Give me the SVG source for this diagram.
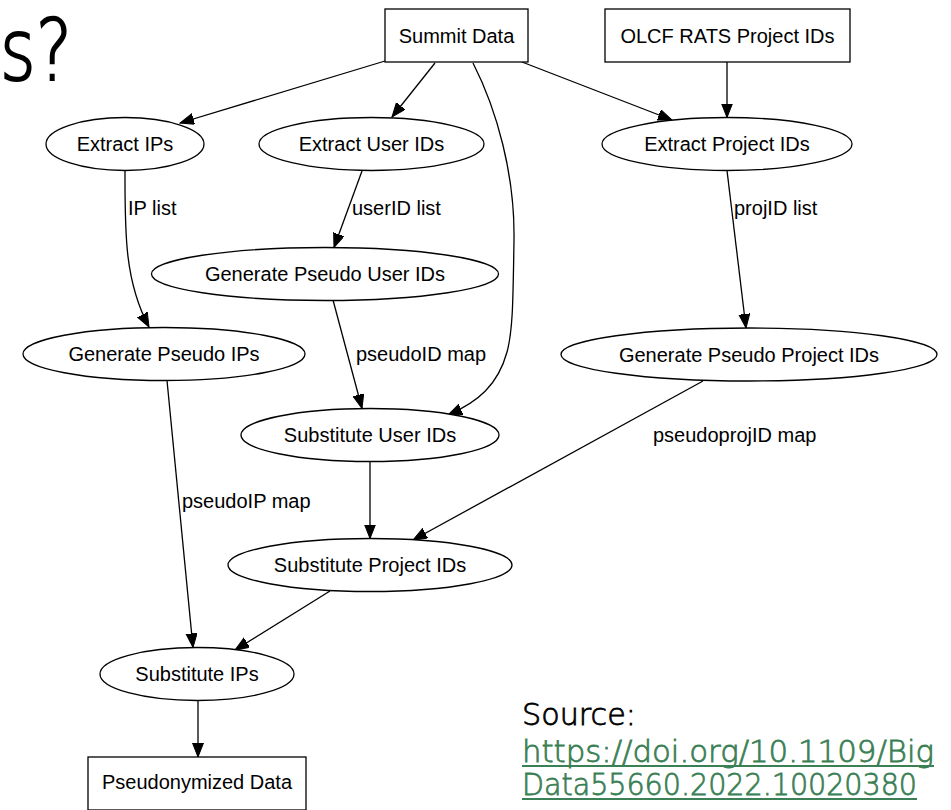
<svg xmlns="http://www.w3.org/2000/svg" width="951" height="810" viewBox="0 0 951 810">
<style>
.n{fill:#fff;stroke:#000;stroke-width:1.3}
.t{font-family:"Liberation Sans",Arial,sans-serif;font-size:20px;fill:#000;text-anchor:middle}
.l{font-family:"Liberation Sans",Arial,sans-serif;font-size:20px;fill:#000}
.e{fill:none;stroke:#000;stroke-width:1.3;marker-end:url(#ah)}
.g{font-family:"DejaVu Sans",sans-serif;font-weight:200}
</style>
<defs>
<marker id="ah" markerUnits="userSpaceOnUse" markerWidth="15" markerHeight="12" refX="14" refY="5.5" orient="auto">
<path d="M0,0 L14,5.5 L0,11 z" fill="#000" stroke="#000" stroke-width="1"/>
</marker>
</defs>
<rect width="951" height="810" fill="#fff"/>
<text x="0" y="80" class="g" font-size="86" textLength="72" lengthAdjust="spacingAndGlyphs" fill="#000" stroke="#000" stroke-width="2">s?</text>
<g id="edges">
<path class="e" d="M385,61 L180,123"/>
<path class="e" d="M435,63 L392,117"/>
<path class="e" d="M473,63 C497,110 515,175 514,240 C513,300 513,330 507,352 C498,385 478,402 448,415"/>
<path class="e" d="M727,62 L727,117.5"/>
<path class="e" d="M522,62 L672,120"/>
<path class="e" d="M125,170.5 C125,230 124,280 149,327"/>
<path class="e" d="M362,171 L334,247.5"/>
<path class="e" d="M333,300 L362,408.5"/>
<path class="e" d="M727,170.5 L746,328"/>
<path class="e" d="M703,381 L413,540"/>
<path class="e" d="M370,461.5 L370,538.5"/>
<path class="e" d="M167,380.5 L193,647.5"/>
<path class="e" d="M330,591 L235,650"/>
<path class="e" d="M198,700.5 L198,757"/>
<text class="l" x="128" y="215">IP list</text>
<text class="l" x="352" y="215">userID list</text>
<text class="l" x="356" y="361">pseudoID map</text>
<text class="l" x="734" y="215">projID list</text>
<text class="l" x="653" y="442">pseudoprojID map</text>
<text class="l" x="182" y="508">pseudoIP map</text>
</g>
<g id="summit"><rect class="n" x="385" y="9" width="143" height="53"/><text class="t" x="456.5" y="43">Summit Data</text></g>
<g id="olcf"><rect class="n" x="605" y="9" width="245" height="53"/><text class="t" x="727.5" y="43">OLCF RATS Project IDs</text></g>
<g id="extractIPs"><ellipse class="n" cx="125" cy="144" rx="79" ry="26.5"/><text class="t" x="125" y="151">Extract IPs</text></g>
<g id="extractUser"><ellipse class="n" cx="371.5" cy="144" rx="112.5" ry="26.5"/><text class="t" x="371.5" y="151">Extract User IDs</text></g>
<g id="extractProj"><ellipse class="n" cx="727" cy="144" rx="125" ry="26.5"/><text class="t" x="727" y="151">Extract Project IDs</text></g>
<g id="genUser"><ellipse class="n" cx="325" cy="274" rx="173.5" ry="26.5"/><text class="t" x="325" y="281">Generate Pseudo User IDs</text></g>
<g id="genIPs"><ellipse class="n" cx="164" cy="354" rx="141" ry="26.5"/><text class="t" x="164" y="361">Generate Pseudo IPs</text></g>
<g id="genProj"><ellipse class="n" cx="749" cy="354.5" rx="188" ry="26.5"/><text class="t" x="749" y="361.5">Generate Pseudo Project IDs</text></g>
<g id="subUser"><ellipse class="n" cx="370" cy="435" rx="129" ry="26.5"/><text class="t" x="370" y="442">Substitute User IDs</text></g>
<g id="subProj"><ellipse class="n" cx="370" cy="565" rx="142" ry="26.5"/><text class="t" x="370" y="572">Substitute Project IDs</text></g>
<g id="subIPs"><ellipse class="n" cx="197" cy="674" rx="97" ry="26.5"/><text class="t" x="197" y="681">Substitute IPs</text></g>
<g id="pseudoData"><rect class="n" x="88" y="757" width="218" height="53"/><text class="t" x="197" y="789">Pseudonymized Data</text></g>
<g id="source">
<text class="g" x="522" y="725" font-size="31" textLength="114" lengthAdjust="spacingAndGlyphs" fill="#000" stroke="#000" stroke-width="0.8">Source:</text>
<text class="g" x="522" y="762" font-size="31" textLength="412" lengthAdjust="spacingAndGlyphs" fill="#3B7F55" stroke="#3B7F55" stroke-width="0.8">https://doi.org/10.1109/Big</text>
<text class="g" x="522" y="795" font-size="31" textLength="395" lengthAdjust="spacingAndGlyphs" fill="#3B7F55" stroke="#3B7F55" stroke-width="0.8">Data55660.2022.10020380</text>
<rect x="522" y="765" width="412" height="2" fill="#3B7F55"/>
<rect x="522" y="798" width="395" height="2" fill="#3B7F55"/>
</g>
</svg>
